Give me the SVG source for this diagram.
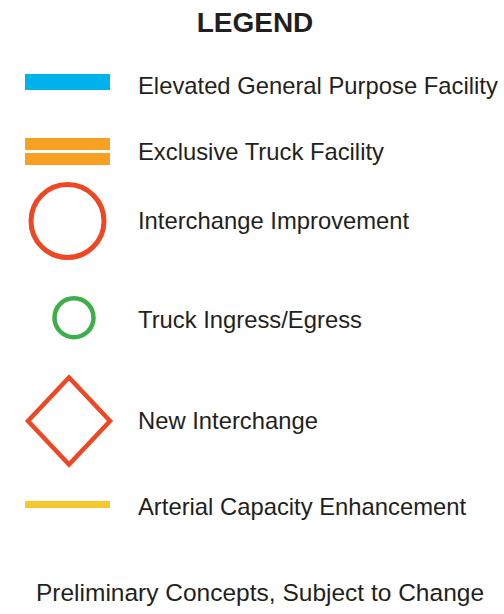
<svg xmlns="http://www.w3.org/2000/svg" width="504" height="614" viewBox="0 0 504 614">
<style>
text{font-family:"Liberation Sans",Arial,sans-serif;fill:#231f20}
.lbl{font-size:23.8px}
.title{font-size:28px;font-weight:bold}
</style>
<rect width="504" height="614" fill="#fff"/>
<text class="title" x="255" y="32" text-anchor="middle">LEGEND</text>
<g id="elevated">
<rect x="25" y="74" width="85" height="16" fill="#00b2eb"/>
<text class="lbl" x="138" y="94">Elevated General Purpose Facility</text>
</g>
<g id="exclusive-truck">
<rect x="25" y="138" width="85" height="12" fill="#f7a021"/>
<rect x="25" y="153" width="85" height="12" fill="#f7a021"/>
<text class="lbl" x="138" y="160">Exclusive Truck Facility</text>
</g>
<g id="interchange-improvement">
<circle cx="67.5" cy="221" r="36.5" fill="none" stroke="#ef4623" stroke-width="5"/>
<text class="lbl" x="138" y="229">Interchange Improvement</text>
</g>
<g id="truck-ingress">
<circle cx="74" cy="317.7" r="19.5" fill="none" stroke="#3eae4a" stroke-width="4.5"/>
<text class="lbl" x="138" y="328">Truck Ingress/Egress</text>
</g>
<g id="new-interchange">
<path d="M69,377.5 L110,421 L69,464.5 L28,421 Z" fill="none" stroke="#ef4623" stroke-width="4.5" stroke-linejoin="miter"/>
<text class="lbl" x="138" y="429">New Interchange</text>
</g>
<g id="arterial">
<rect x="25" y="501" width="85" height="7" fill="#f6c82e"/>
<text class="lbl" x="138" y="515">Arterial Capacity Enhancement</text>
</g>
<text class="lbl" x="260" y="601" text-anchor="middle" style="font-size:24.5px">Preliminary Concepts, Subject to Change</text>
</svg>
